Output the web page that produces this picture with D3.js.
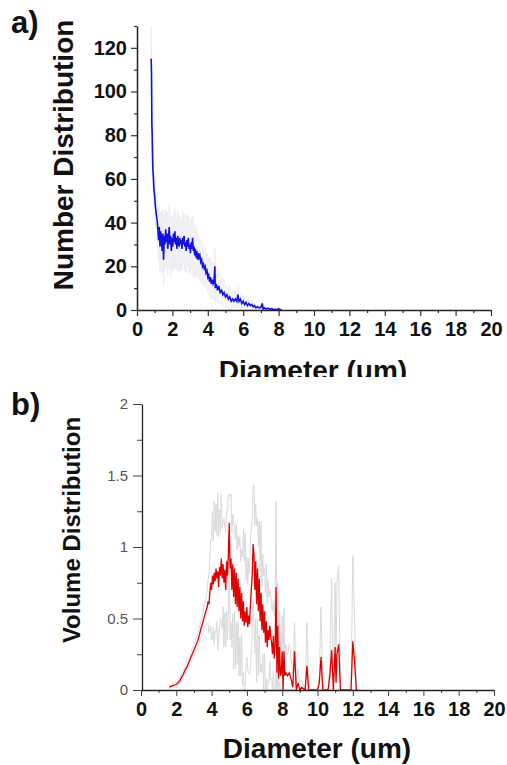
<!DOCTYPE html>
<html>
<head>
<meta charset="utf-8">
<script src="https://cdn.jsdelivr.net/npm/d3@7"></script>
<style>
  body { margin: 0; background: #fff; }
  text { font-family: "Liberation Sans", Arial, sans-serif; }
</style>
</head>
<body>
<script>
var w = 507;
var h = 765;

// panel a) number distribution
var numDiam = [
  0.80, 0.82, 0.84, 0.86, 0.88, 0.90, 0.93, 0.96, 1.00, 1.03,
  1.06, 1.10, 1.14, 1.18, 1.22, 1.26, 1.30, 1.34, 1.38, 1.42,
  1.46, 1.50, 1.54, 1.58, 1.62, 1.66, 1.70, 1.74, 1.78, 1.82,
  1.86, 1.90, 1.94, 1.98, 2.02, 2.06, 2.10, 2.14, 2.18, 2.22,
  2.26, 2.30, 2.34, 2.38, 2.42, 2.46, 2.50, 2.54, 2.58, 2.62,
  2.66, 2.70, 2.74, 2.78, 2.82, 2.86, 2.90, 2.94, 2.98, 3.02,
  3.06, 3.10, 3.14, 3.18, 3.22, 3.26, 3.30, 3.34, 3.38, 3.42,
  3.46, 3.50, 3.55, 3.60, 3.65, 3.70, 3.75, 3.80, 3.85, 3.90,
  3.95, 4.00, 4.05, 4.10, 4.15, 4.20, 4.25, 4.30, 4.35, 4.40,
  4.42, 4.48, 4.55, 4.62, 4.70, 4.78, 4.85, 4.92, 5.00, 5.08,
  5.16, 5.24, 5.32, 5.40, 5.48, 5.56, 5.64, 5.70, 5.76, 5.84,
  5.92, 6.00, 6.08, 6.16, 6.24, 6.32, 6.40, 6.48, 6.56, 6.64,
  6.72, 6.80, 6.90, 7.00, 7.08, 7.12, 7.20, 7.30, 7.40, 7.50,
  7.60, 7.70, 7.80, 7.90, 8.00, 8.10, 8.20
];
var numValue = [
  115, 108, 85, 80, 70, 64, 60, 55, 52, 48,
  46, 43, 41, 37, 32, 38, 29, 36, 33, 27,
  35, 23, 34, 30, 37, 31, 35, 28, 33, 38,
  30, 34, 27, 33, 29, 35, 31, 36, 30, 33,
  28, 34, 31, 29, 33, 30, 32, 28, 33, 30,
  34, 29, 31, 27, 32, 29, 33, 28, 30, 26,
  31, 28, 33, 27, 29, 25, 28, 24, 27, 23,
  26, 24, 25, 22, 23, 20, 21, 19, 20, 17,
  18, 15, 16, 13, 15, 12, 14, 12, 13, 20,
  10, 12, 9, 11, 8, 9, 7, 8, 6, 7,
  5, 6, 4, 5, 4, 5, 4, 7, 4, 5,
  3, 4, 2.5, 3.5, 2, 3, 2, 2.5, 1.5, 2,
  1, 1.5, 1, 1.2, 3, 0.5, 1, 0.4, 0.8, 0.3,
  0.6, 0.2, 0.3, 0.1, 0.6, 0.1, 0
];
var numErr = [
  15, 14, 12, 10, 10, 9, 9, 8, 8, 8,
  8, 8, 9, 9, 10, 10, 11, 9, 12, 10,
  11, 12, 10, 12, 9, 11, 10, 12, 9, 10,
  11, 9, 12, 10, 11, 9, 12, 10, 11, 9,
  10, 11, 9, 12, 10, 11, 9, 10, 12, 9,
  10, 11, 9, 10, 12, 9, 10, 11, 9, 10,
  11, 9, 10, 12, 9, 10, 11, 9, 10, 8,
  9, 10, 8, 9, 8, 9, 7, 8, 9, 7,
  8, 7, 8, 7, 9, 7, 8, 7, 6, 8,
  6, 7, 6, 7, 5, 6, 5, 6, 5, 4,
  4, 5, 4, 4, 3, 4, 3, 4, 3, 3,
  3, 3, 2, 3, 2, 2, 2, 2, 1.5, 1.5,
  1, 1, 1, 1, 1.5, 0.5, 1, 0.5, 0.5, 0.3,
  0.5, 0.2, 0.3, 0.1, 0.4, 0.1, 0
];

// panel b) volume distribution
var volDiam = [
  1.60, 1.70, 1.80, 1.90, 2.00, 2.10, 2.20, 2.30, 2.40, 2.50,
  2.60, 2.70, 2.80, 2.90, 3.00, 3.10, 3.20, 3.30, 3.40, 3.50,
  3.60, 3.70, 3.75, 3.80, 3.85, 3.90, 3.95, 4.00, 4.05, 4.10,
  4.15, 4.20, 4.25, 4.30, 4.35, 4.40, 4.45, 4.50, 4.55, 4.60,
  4.65, 4.70, 4.75, 4.80, 4.85, 4.90, 4.95, 5.00, 5.05, 5.10,
  5.15, 5.20, 5.25, 5.30, 5.35, 5.40, 5.45, 5.50, 5.55, 5.60,
  5.65, 5.70, 5.75, 5.80, 5.85, 5.90, 5.95, 6.00, 6.05, 6.10,
  6.15, 6.20, 6.30, 6.35, 6.40, 6.45, 6.50, 6.55, 6.60, 6.65,
  6.70, 6.75, 6.80, 6.85, 6.90, 6.95, 7.00, 7.05, 7.10, 7.15,
  7.20, 7.25, 7.30, 7.35, 7.40, 7.45, 7.50, 7.55, 7.60, 7.65,
  7.70, 7.75, 7.80, 7.85, 7.90, 7.95, 8.00, 8.05, 8.10, 8.15,
  8.20, 8.30, 8.40, 8.50, 8.60, 8.70, 8.80, 8.90, 9.00, 9.10,
  9.30, 9.40, 9.50, 10.00, 10.10, 10.20, 10.30, 10.60, 10.70, 10.80,
  10.90, 11.00, 11.05, 11.10, 11.20, 11.30, 11.90, 12.00, 12.10, 12.20,
  12.30
];
var volValue = [
  0.02, 0.025, 0.03, 0.035, 0.04, 0.05, 0.065, 0.09, 0.11, 0.14,
  0.16, 0.19, 0.22, 0.25, 0.28, 0.31, 0.34, 0.38, 0.43, 0.47,
  0.52, 0.56, 0.58, 0.62, 0.60, 0.68, 0.75, 0.70, 0.80, 0.74,
  0.82, 0.76, 0.85, 0.78, 0.83, 0.72, 0.86, 0.80, 0.92, 0.78,
  0.88, 0.75, 0.84, 0.70, 0.90, 0.80, 0.95, 1.17, 0.85, 0.92,
  0.70, 0.88, 0.65, 0.85, 0.60, 0.82, 0.58, 0.78, 0.55, 0.72,
  0.50, 0.68, 0.48, 0.62, 0.45, 0.55, 0.47, 0.58, 0.44, 0.52,
  0.46, 0.60, 0.80, 1.02, 0.95, 0.70, 0.90, 0.60, 0.85, 0.55,
  0.78, 0.48, 0.68, 0.42, 0.60, 0.40, 0.55, 0.33, 0.48, 0.30,
  0.42, 0.35, 0.45, 0.37, 0.33, 0.25, 0.38, 0.22, 0.30, 0.72,
  0.12, 0.45, 0.08, 0.30, 0.10, 0.12, 0.27, 0.00, 0.27, 0.10,
  0.12, 0.10, 0.12, 0.08, 0.02, 0.27, 0.00, 0.05, 0.00, 0.02,
  0.00, 0.17, 0.00, 0.00, 0.05, 0.23, 0.00, 0.00, 0.10, 0.28,
  0.00, 0.30, 0.05, 0.25, 0.32, 0.00, 0.00, 0.34, 0.20, 0.00,
  0.00
];
var volErr = [
  0.01, 0.01, 0.01, 0.01, 0.015, 0.015, 0.02, 0.02, 0.02, 0.025,
  0.03, 0.03, 0.035, 0.035, 0.04, 0.04, 0.05, 0.05, 0.06, 0.07,
  0.08, 0.10, 0.12, 0.15, 0.20, 0.25, 0.30, 0.35, 0.45, 0.30,
  0.50, 0.35, 0.45, 0.30, 0.55, 0.35, 0.40, 0.30, 0.45, 0.35,
  0.30, 0.45, 0.30, 0.40, 0.35, 0.45, 0.40, 0.20, 0.50, 0.45,
  0.40, 0.35, 0.50, 0.30, 0.45, 0.35, 0.40, 0.30, 0.45, 0.35,
  0.40, 0.30, 0.45, 0.50, 0.45, 0.55, 0.30, 0.35, 0.30, 0.40,
  0.35, 0.45, 0.40, 0.40, 0.48, 0.45, 0.40, 0.55, 0.35, 0.45,
  0.40, 0.35, 0.50, 0.30, 0.35, 0.40, 0.30, 0.35, 0.40, 0.30,
  0.35, 0.30, 0.25, 0.30, 0.25, 0.30, 0.25, 0.30, 0.35, 0.60,
  0.20, 0.30, 0.15, 0.25, 0.20, 0.15, 0.25, 0.10, 0.30, 0.15,
  0.20, 0.15, 0.20, 0.15, 0.10, 0.20, 0.05, 0.10, 0.05, 0.05,
  0.00, 0.30, 0.00, 0.00, 0.05, 0.35, 0.00, 0.00, 0.10, 0.50,
  0.00, 0.45, 0.10, 0.50, 0.55, 0.00, 0.00, 0.60, 0.30, 0.00,
  0.00
];

var xTicks = [0, 2, 4, 6, 8, 10, 12, 14, 16, 18, 20];
var xMinorTicks = [1, 3, 5, 7, 9, 11, 13, 15, 17, 19];
var numYTicks = [0, 20, 40, 60, 80, 100, 120];
var numYMinorTicks = [10, 30, 50, 70, 90, 110, 130];
var volYTicks = [0, 0.5, 1, 1.5, 2];
var volYTickLabels = ["0", "0.5", "1", "1.5", "2"];
var volYMinorTicks = [0.25, 0.75, 1.25, 1.75];

var svg = d3.select("body")
    .append("svg")
    .attr("width", w)
    .attr("height", h);

svg.append("rect")
    .attr("width", w)
    .attr("height", h)
    .attr("fill", "#fff");

svg.append("clipPath")
    .attr("id", "clipA")
  .append("rect")
    .attr("width", w)
    .attr("height", 377);

// ---------- panel a ----------
var gA = svg.append("g").attr("clip-path", "url(#clipA)");

var xA = d3.scaleLinear().domain([0, 20]).range([137, 491]);
var yA = d3.scaleLinear().domain([0, 130]).range([310, 26]);

var numData = numDiam.map(function(d, i) {
  return { d: d, v: numValue[i], e: numErr[i] };
});

// error bars (very light haze)
gA.append("g")
  .selectAll("line")
  .data(numData)
  .enter()
  .append("line")
    .attr("x1", function(p) { return xA(p.d); })
    .attr("x2", function(p) { return xA(p.d); })
    .attr("y1", function(p) { return yA(Math.max(0, p.v - p.e)); })
    .attr("y2", function(p) { return yA(p.v + p.e); })
    .attr("stroke", "#ededf2")
    .attr("stroke-width", 0.8);

var upperA = d3.line()
    .x(function(p) { return xA(p.d); })
    .y(function(p) { return yA(p.v + p.e); });
var lowerA = d3.line()
    .x(function(p) { return xA(p.d); })
    .y(function(p) { return yA(Math.max(0, p.v - p.e)); });

gA.append("path").datum(numData).attr("d", upperA)
    .attr("fill", "none").attr("stroke", "#ebebf0").attr("stroke-width", 0.7);
gA.append("path").datum(numData).attr("d", lowerA)
    .attr("fill", "none").attr("stroke", "#ebebf0").attr("stroke-width", 0.7);

var lineA = d3.line()
    .x(function(p) { return xA(p.d); })
    .y(function(p) { return yA(p.v); });

gA.append("path")
    .datum(numData)
    .attr("d", lineA)
    .attr("fill", "none")
    .attr("stroke", "#1212dc")
    .attr("stroke-width", 1.6);

// axes a
gA.append("g")
    .attr("transform", "translate(0,310)")
    .call(d3.axisBottom(xA).tickValues(xMinorTicks).tickSize(3).tickFormat(""))
    .call(function(g) { g.select(".domain").remove(); });

var axAx = gA.append("g")
    .attr("transform", "translate(0,310)")
    .call(d3.axisBottom(xA).tickValues(xTicks).tickSize(6).tickSizeOuter(0).tickPadding(6));

gA.append("g")
    .attr("transform", "translate(137,0)")
    .call(d3.axisLeft(yA).tickValues(numYMinorTicks).tickSize(3).tickFormat(""))
    .call(function(g) { g.select(".domain").remove(); });

var ayAx = gA.append("g")
    .attr("transform", "translate(137,0)")
    .call(d3.axisLeft(yA).tickValues(numYTicks).tickSize(6).tickSizeOuter(0).tickPadding(4));

axAx.selectAll("text")
    .attr("font-size", 20)
    .attr("font-weight", "bold")
    .attr("fill", "#111");
ayAx.selectAll("text")
    .attr("font-size", 20)
    .attr("font-weight", "bold")
    .attr("fill", "#111");

gA.selectAll(".domain").attr("stroke", "#222").attr("stroke-width", 1.5);
gA.selectAll(".tick line").attr("stroke", "#333").attr("stroke-width", 1.2);

gA.append("text")
    .attr("x", 313)
    .attr("y", 380)
    .attr("text-anchor", "middle")
    .attr("font-size", 28)
    .attr("font-weight", "bold")
    .attr("fill", "#111")
    .text("Diameter (um)");

gA.append("text")
    .attr("transform", "translate(73,155) rotate(-90)")
    .attr("text-anchor", "middle")
    .attr("font-size", 28)
    .attr("font-weight", "bold")
    .attr("fill", "#111")
    .text("Number Distribution");

gA.append("text")
    .attr("x", 11)
    .attr("y", 33)
    .attr("font-size", 31)
    .attr("font-weight", "bold")
    .attr("fill", "#111")
    .text("a)");

// ---------- panel b ----------
var gB = svg.append("g");

var xB = d3.scaleLinear().domain([0, 20]).range([141, 494]);
var yB = d3.scaleLinear().domain([0, 2]).range([690, 404]);

var volData = volDiam.map(function(d, i) {
  return { d: d, v: volValue[i], e: volErr[i] };
});

var upperB = d3.line()
    .x(function(p) { return xB(p.d); })
    .y(function(p) { return yB(p.v + p.e); });
var lowerB = d3.line()
    .x(function(p) { return xB(p.d); })
    .y(function(p) { return yB(Math.max(0, p.v - p.e)); });

gB.append("path").datum(volData).attr("d", upperB)
    .attr("fill", "none").attr("stroke", "#dadada").attr("stroke-width", 1);
gB.append("path").datum(volData).attr("d", lowerB)
    .attr("fill", "none").attr("stroke", "#dadada").attr("stroke-width", 1);

var lineB = d3.line()
    .x(function(p) { return xB(p.d); })
    .y(function(p) { return yB(p.v); });

gB.append("path")
    .datum(volData)
    .attr("d", lineB)
    .attr("fill", "none")
    .attr("stroke", "#e00000")
    .attr("stroke-width", 1.3);

// axes b
gB.append("g")
    .attr("transform", "translate(0,690)")
    .call(d3.axisBottom(xB).tickValues(xMinorTicks).tickSize(3).tickFormat(""))
    .call(function(g) { g.select(".domain").remove(); });

var bxAx = gB.append("g")
    .attr("transform", "translate(0,690)")
    .call(d3.axisBottom(xB).tickValues(xTicks).tickSize(6).tickSizeOuter(0).tickPadding(6));

gB.append("g")
    .attr("transform", "translate(142,0)")
    .call(d3.axisLeft(yB).tickValues(volYMinorTicks).tickSize(5).tickFormat(""))
    .call(function(g) { g.select(".domain").remove(); });

var byAx = gB.append("g")
    .attr("transform", "translate(142,0)")
    .call(d3.axisLeft(yB).tickValues(volYTicks).tickSize(9).tickSizeOuter(0).tickPadding(5)
      .tickFormat(function(d, i) { return volYTickLabels[i]; }));

bxAx.selectAll("text")
    .attr("font-size", 20)
    .attr("font-weight", "bold")
    .attr("fill", "#111");
byAx.selectAll("text")
    .attr("font-size", 15)
    .attr("fill", "#555");

gB.selectAll(".domain").attr("stroke", "#222").attr("stroke-width", 1.3);
gB.selectAll(".tick line").attr("stroke", "#444").attr("stroke-width", 1);

gB.append("text")
    .attr("x", 317)
    .attr("y", 758)
    .attr("text-anchor", "middle")
    .attr("font-size", 28)
    .attr("font-weight", "bold")
    .attr("fill", "#111")
    .text("Diameter (um)");

gB.append("text")
    .attr("transform", "translate(80,530) rotate(-90)")
    .attr("text-anchor", "middle")
    .attr("font-size", 24)
    .attr("font-weight", "bold")
    .attr("fill", "#111")
    .text("Volume Distribution");

gB.append("text")
    .attr("x", 11)
    .attr("y", 415)
    .attr("font-size", 31)
    .attr("font-weight", "bold")
    .attr("fill", "#111")
    .text("b)");
</script>
</body>
</html>
